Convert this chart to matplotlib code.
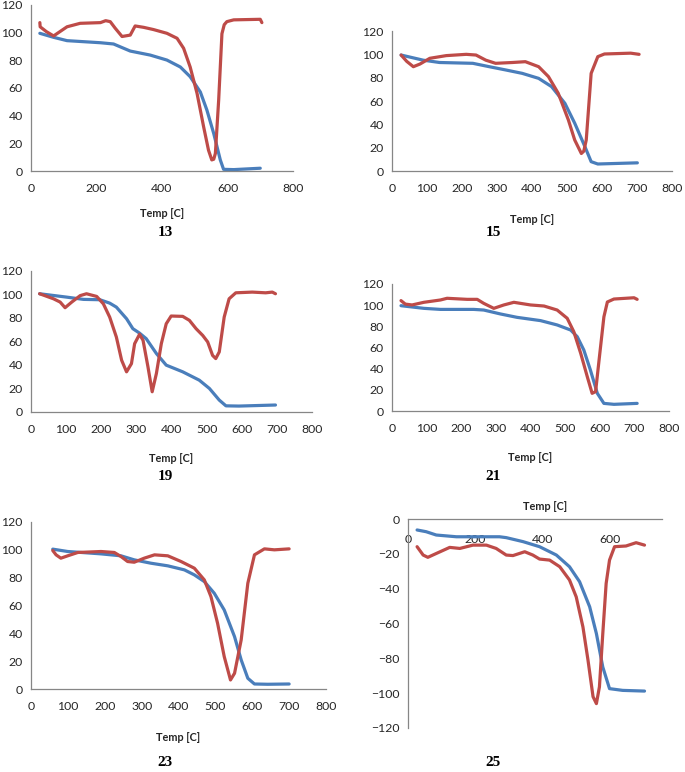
import matplotlib
matplotlib.use("Agg")
import matplotlib.pyplot as plt

plt.rcParams['font.family'] = ['Lato', 'DejaVu Sans']

# curve data (temp C, value)
t13_blue = [27, 69, 110, 212, 252, 303, 364, 415, 456, 486, 517, 537, 558, 578, 588, 619, 700]
v13_blue = [99.3, 96.4, 94, 92.5, 91.6, 86.5, 83.6, 80, 75, 68, 57, 44, 27, 8, 1.2, 1, 2]
t13_red = [27, 28, 47, 69, 110, 150, 212, 228, 242, 257, 278, 303, 318, 344, 374, 415, 446, 466,
           486, 507, 527, 542, 552, 558, 563, 573, 583, 590, 598, 619, 700, 705]
v13_red = [107, 104, 100.5, 97.4, 104, 106.5, 107, 108.4, 107.7, 103, 97, 98, 104.6, 103.6, 102,
           99.3, 95.7, 88.5, 75, 56, 32, 15, 8, 8.5, 12.7, 51, 99, 105.5, 107.7, 109, 109.4, 107]

t15_blue = [26, 89, 136, 231, 278, 325, 372, 419, 456, 494, 522, 551, 569, 588, 701]
v15_blue = [99.4, 95, 93, 92.3, 89.4, 86.6, 83.7, 79.4, 72.3, 58, 41, 21, 8, 6, 7]
t15_red = [26, 42, 61, 80, 108, 155, 212, 240, 268, 296, 344, 381, 419, 447, 475, 504, 522, 541,
           548, 555, 569, 588, 607, 682, 706]
v15_red = [99.4, 94, 89.4, 91.7, 96.6, 98.9, 100, 99.4, 95, 92.3, 93, 93.7, 89.4, 80.9, 66.6, 43.7,
           26.6, 15, 17, 26.6, 83.7, 98, 100.3, 101, 100]

t19_blue = [24.5, 102, 149, 196, 224, 243, 272, 290, 309, 328, 357, 385, 432, 479, 508, 536, 555, 592, 696]
v19_blue = [100.6, 97.7, 95.8, 95.5, 92.6, 89.2, 79.3, 70.8, 67, 62.3, 49.6, 39.7, 34, 26.9, 19.8, 9.9, 5, 4.8, 5.7]
t19_red = [24.5, 64, 83, 97, 116, 140, 158, 187, 206, 224, 243, 258, 272, 286, 295, 309, 319, 333,
           345, 357, 371, 385, 399, 432, 451, 470, 489, 503, 517, 526, 536, 550, 564, 583, 630, 668,
           687, 696]
v19_red = [100.6, 96.3, 93.5, 88.7, 93.5, 99, 100.6, 98.3, 92, 80.7, 63.7, 43.9, 34, 41, 58, 66,
           60.9, 38.2, 17, 32.6, 58, 75, 81.6, 81.3, 77.9, 70.8, 65, 59.5, 48, 45.3, 51, 80.7, 96.3,
           101.4, 102, 101.4, 102, 100.6]

t21_blue = [26, 92, 140, 236, 265, 313, 361, 429, 477, 516, 535, 554, 573, 593, 612, 641, 708]
v21_blue = [99.5, 97, 96, 96, 95.4, 91.7, 88.5, 85.4, 81.3, 76.5, 70.2, 57.6, 38.7, 16.7, 7.2, 6.3, 7.2]
t21_red = [26, 38.5, 58, 92, 140, 159, 217, 246, 265, 294, 323, 352, 400, 439, 477, 506, 525, 545,
           564, 578, 588, 598, 612, 622, 641, 699, 708]
v21_red = [104.3, 101, 100.2, 102.7, 104.9, 106.5, 105.5, 105.5, 101.7, 97, 100.2, 102.7, 100.2,
           99.2, 95.4, 87.6, 75, 54.5, 32.4, 16.7, 18.3, 48, 89, 103, 105.8, 107, 105.5]

t23_blue = [59, 99.5, 190, 244, 280, 325, 371, 416, 443, 470, 497, 524, 552, 570, 588, 606, 642, 700]
v23_blue = [100.5, 98.8, 97.1, 95.7, 92.8, 90.4, 88.5, 85.6, 82, 77.2, 68.8, 56.8, 37.6, 20.9, 7.7, 3.6, 3.4, 3.6]
t23_red = [59, 68, 81, 99.5, 127, 190, 226, 244, 262, 280, 307, 335, 371, 407, 443, 470, 488, 506,
           524, 541, 552, 570, 588, 606, 633, 660, 700]
v23_red = [99.5, 96.4, 94, 95.7, 98.1, 98.8, 98.1, 95.2, 91.6, 91.1, 94, 96.4, 95.7, 91.6, 86.8,
           78.4, 66.4, 47.2, 23.3, 6.5, 11.3, 35.3, 76, 96.4, 100.7, 100, 100.7]

t25_blue = [27, 54, 84, 144, 272, 292, 342, 391, 441, 480, 510, 540, 560, 579, 599, 638, 703]
v25_blue = [-6.3, -7.3, -9.2, -10.2, -10.2, -10.7, -13, -15.9, -20.7, -27.4, -36, -50.4, -65.8,
            -85, -97.4, -98.4, -98.8]
t25_red = [27, 45, 59, 84, 124, 154, 193, 233, 262, 292, 312, 347, 371, 391, 421, 451, 480, 500,
           520, 535, 550, 560, 569, 579, 589, 599, 614, 648, 678, 703]
v25_red = [-15.9, -20.7, -22, -19.8, -16.3, -16.9, -15, -15, -16.9, -20.7, -21, -18.8, -20.7, -23,
           -23.6, -27.4, -35, -44.7, -62, -81, -102, -106, -96.4, -65.8, -37, -23.6, -15.9, -15.5,
           -13.6, -15]

blue = '#4A7EBB'
red = '#BE4B48'
axis_gray = '#868686'

W, H = 685, 772
fig = plt.figure(figsize=(W / 100, H / 100), dpi=100)


def make_axes(x0, x1, y_top, y_bot):
    # pixel box -> figure fraction
    return fig.add_axes([x0 / W, 1 - y_bot / H, (x1 - x0) / W, (y_bot - y_top) / H])


def style(ax, xticks, label_y):
    for s in ['top', 'right']:
        ax.spines[s].set_visible(False)
    for s in ['left', 'bottom']:
        ax.spines[s].set_color(axis_gray)
        ax.spines[s].set_linewidth(0.9)
    ax.set_xticks(xticks)
    ax.set_yticks(range(0, 121, 20))
    ax.tick_params(length=0, labelsize=8.8, colors='#262626')
    ax.tick_params(axis='y', pad=6)
    ax.tick_params(axis='x', pad=9)
    ax.set_xlabel('Temp [C]', fontsize=7.8, fontweight='bold', color='#262626')
    ax.xaxis.set_label_coords(0.5, label_y)


panels = [
    # (x0, x1, ytop(=120), ybot(=0), xticks, label y, blue, red, number, number pos)
    (31, 293, 4.6, 171, range(0, 801, 200), -0.22, (t13_blue, v13_blue), (t13_red, v13_red), '13', (165, 232)),
    (392, 672, 31, 171, range(0, 801, 100), -0.31, (t15_blue, v15_blue), (t15_red, v15_red), '15', (493, 233)),
    (31, 312, 271, 411.7, range(0, 801, 100), -0.29, (t19_blue, v19_blue), (t19_red, v19_red), '19', (165, 477)),
    (392, 669, 284, 411, range(0, 801, 100), -0.32, (t21_blue, v21_blue), (t21_red, v21_red), '21', (493, 477)),
    (31, 326, 522, 689, range(0, 801, 100), -0.26, (t23_blue, v23_blue), (t23_red, v23_red), '23', (165, 763)),
]

for x0, x1, yt, yb, xt, ly, b, r, num, npos in panels:
    ax = make_axes(x0, x1, yt, yb)
    ax.plot(b[0], b[1], color=blue, lw=2.3, solid_joinstyle='round', solid_capstyle='round')
    ax.plot(r[0], r[1], color=red, lw=2.3, solid_joinstyle='round', solid_capstyle='round')
    ax.set_xlim(0, 800)
    ax.set_ylim(0, 120)
    style(ax, xt, ly)
    fig.text(npos[0] / W, 1 - npos[1] / H, num, family='Liberation Serif', fontweight='bold',
             fontsize=11, ha='center', va='center')

# panel 25: negative values, x axis along the top
ax = make_axes(408, 662, 519, 728)
ax.plot(t25_blue, v25_blue, color=blue, lw=2.3, solid_joinstyle='round', solid_capstyle='round')
ax.plot(t25_red, v25_red, color=red, lw=2.3, solid_joinstyle='round', solid_capstyle='round')
ax.set_xlim(0, 755)
ax.set_ylim(-120, 0)
for s in ['bottom', 'right']:
    ax.spines[s].set_visible(False)
for s in ['left', 'top']:
    ax.spines[s].set_color(axis_gray)
    ax.spines[s].set_linewidth(0.9)
ax.set_xticks(range(0, 601, 200))
ax.set_yticks(range(-120, 1, 20))
ax.xaxis.set_ticks_position('top')
ax.tick_params(length=0, labelsize=8.8, colors='#262626')
ax.tick_params(axis='y', pad=6)
ax.tick_params(axis='x', labeltop=True, labelbottom=False, pad=-19)
ax.xaxis.set_label_position('top')
ax.set_xlabel('Temp [C]', fontsize=7.8, fontweight='bold', color='#262626')
ax.xaxis.set_label_coords(0.54, 1.045)
fig.text(493 / W, 1 - 763 / H, '25', family='Liberation Serif', fontweight='bold',
         fontsize=11, ha='center', va='center')

fig.savefig('out.png', dpi=100)
